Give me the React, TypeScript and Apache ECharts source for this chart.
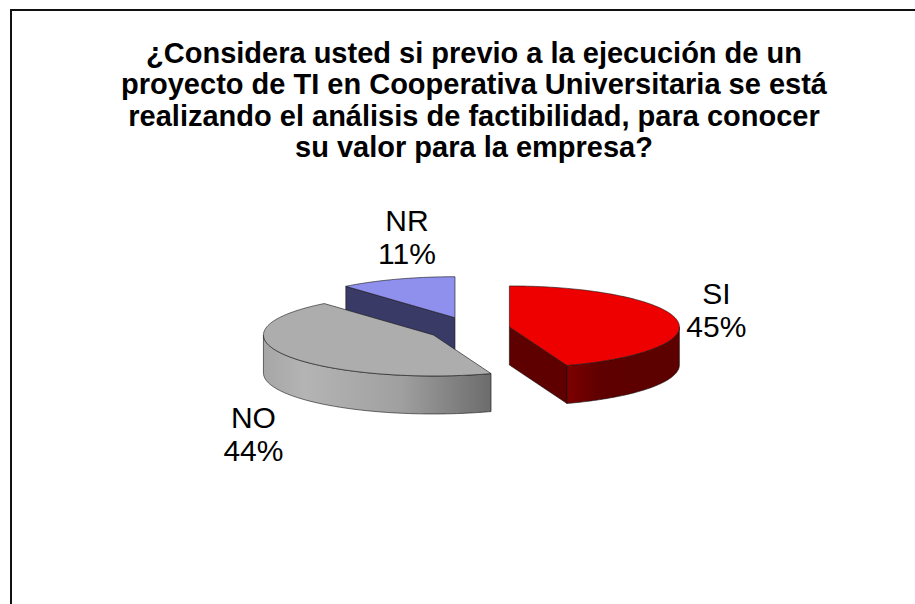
import React, { useEffect, useRef } from "react";
import * as echarts from "echarts";

const titleText =
  "¿Considera usted si previo a la ejecución de un\nproyecto de TI en Cooperativa Universitaria se está\nrealizando el análisis de factibilidad, para conocer\nsu valor para la empresa?";
const categories = ["SI", "NO", "NR"];
const percentages = [44.5, 44.4, 11.1];

const topColors = ["#ee0000", "#adadad", "#8f8fee"];
const radialWallColors = ["#5e0000", "#808080", "#3a3a66"];
const arcWallStops: [number, string][][] = [
  [[0, "#7e0000"], [0.3, "#5e0000"], [1, "#5c0000"]],
  [[0, "#a6a6a6"], [0.18, "#b4b4b4"], [0.6, "#a0a0a0"], [1, "#6c6c6c"]],
  [[0, "#3a3a66"], [1, "#3a3a66"]],
];
const labelOffsets = [
  [207, -17],
  [-180, 99],
  [-48, -81],
];

const CX = 469;
const CY = 329;
const RX = 170;
const RY = 41;
const DEPTH = 38;
const EXPLODE_X = 41;
const EXPLODE_Y = 12;
const OUTLINE = "rgba(20,20,20,0.75)";

const rad = (d: number) => (d * Math.PI) / 180;
const total = percentages.reduce((a, b) => a + b, 0);

function arcPoints(c: number[], a0: number, a1: number, dy = 0) {
  const pts: number[][] = [];
  const n = Math.max(2, Math.ceil(Math.abs(a1 - a0)));
  for (let i = 0; i <= n; i++) {
    const a = rad(a0 + ((a1 - a0) * i) / n);
    pts.push([c[0] + RX * Math.sin(a), c[1] - RY * Math.cos(a) + dy]);
  }
  return pts;
}

function renderItem(params: any, api: any) {
  const i = params.dataIndex;
  const value = api.value(0);
  let start = 0;
  for (let k = 0; k < i; k++) start += (percentages[k] / total) * 360;
  const end = start + (value / total) * 360;
  const mid = rad((start + end) / 2);
  const c = [CX + EXPLODE_X * Math.sin(mid), CY - EXPLODE_Y * Math.cos(mid)];
  const z2 = (categories.length - i) * 10;
  const children: any[] = [];

  const wall = (angle: number) => {
    const e = arcPoints(c, angle, angle)[0];
    children.push({
      type: "polygon",
      z2,
      shape: { points: [c, e, [e[0], e[1] + DEPTH], [c[0], c[1] + DEPTH]] },
      style: { fill: radialWallColors[i], stroke: OUTLINE, lineWidth: 0.8 },
    });
  };
  if (start > 180 && start < 360) wall(start);
  if (end > 0 && end < 180) wall(end);

  const f0 = Math.max(start, 90);
  const f1 = Math.min(end, 270);
  if (f1 > f0) {
    children.push({
      type: "polygon",
      z2: z2 + 1,
      shape: {
        points: [...arcPoints(c, f0, f1), ...arcPoints(c, f1, f0, DEPTH)],
      },
      style: {
        fill: new echarts.graphic.LinearGradient(
          0,
          0,
          1,
          0,
          arcWallStops[i].map(([offset, color]) => ({ offset, color }))
        ),
        stroke: OUTLINE,
        lineWidth: 0.8,
      },
    });
  }

  children.push({
    type: "polygon",
    z2: z2 + 2,
    shape: { points: [c, ...arcPoints(c, start, end)] },
    style: { fill: topColors[i], stroke: OUTLINE, lineWidth: 0.8 },
  });

  children.push({
    type: "text",
    z2: 100,
    style: {
      text: `${categories[i]}\n${Math.round(value)}%`,
      x: c[0] + labelOffsets[i][0],
      y: c[1] + labelOffsets[i][1],
      fill: "#000",
      fontFamily: "Liberation Sans",
      fontSize: 30,
      lineHeight: 33,
      align: "center",
      verticalAlign: "middle",
    },
  });

  return { type: "group", children };
}

export default function App() {
  const ref = useRef<HTMLDivElement>(null);
  useEffect(() => {
    const chart = echarts.init(ref.current!, null, { renderer: "svg" });
    chart.setOption({
      animation: false,
      backgroundColor: "#fff",
      title: {
        text: titleText,
        left: 469,
        top: 32,
        textAlign: "center",
        textStyle: {
          fontFamily: "Liberation Sans",
          fontWeight: "bold",
          fontSize: 29,
          lineHeight: 31.5,
          color: "#000",
        },
      },
      graphic: [
        {
          type: "polyline",
          shape: { points: [[11, 604], [11, 10], [915, 10]] },
          style: { fill: "none", stroke: "#111", lineWidth: 2 },
        },
      ],
      series: [
        {
          type: "custom",
          coordinateSystem: "none",
          renderItem,
          data: percentages.map((v) => [v]),
        },
      ],
    });
    return () => chart.dispose();
  }, []);
  return (
    <div
      ref={ref}
      style={{ position: "fixed", left: 0, top: 0, width: 915, height: 604 }}
    />
  );
}
